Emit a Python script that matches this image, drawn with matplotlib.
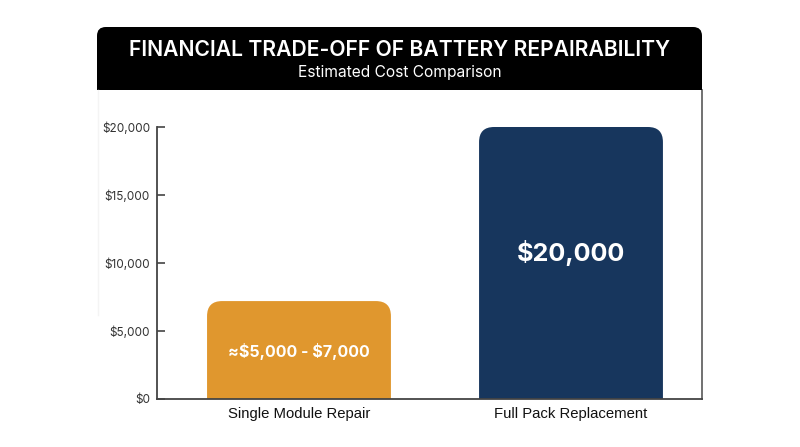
import matplotlib
matplotlib.use("Agg")
import matplotlib.pyplot as plt
from matplotlib.patches import FancyBboxPatch, Rectangle
from matplotlib.ticker import FuncFormatter

# chart values
categories = ["Single Module Repair", "Full Pack Replacement"]
costs = [7200, 20000]
bar_labels = ["\u2248\\$5,000 - \\$7,000", "\\$20,000"]
bar_colors = ["#E0972E", "#17365D"]
y_ticks = [0, 5000, 10000, 15000, 20000]

TITLE = "FINANCIAL TRADE-OFF OF BATTERY REPAIRABILITY"
SUBTITLE = "Estimated Cost Comparison"

W, H = 800, 447
fig = plt.figure(figsize=(W / 100, H / 100), dpi=100)
fig.patch.set_facecolor("white")


def fx(px):
    return px / W


def fy(py):
    return 1 - py / H


# black header band with rounded top corners
hdr = FancyBboxPatch((fx(97), fy(90)), fx(702) - fx(97), fy(27) - fy(90),
                     boxstyle="round,pad=0,rounding_size=0.011",
                     mutation_aspect=W / H, transform=fig.transFigure,
                     facecolor="black", edgecolor="none", zorder=1)
fig.patches.append(hdr)
fig.patches.append(Rectangle((fx(97), fy(90)), fx(702) - fx(97), fy(70) - fy(90),
                             transform=fig.transFigure, facecolor="black",
                             edgecolor="none", zorder=1))
# faint left edge of the card
fig.lines.append(plt.Line2D([fx(98), fx(98)], [fy(90), fy(315)],
                            transform=fig.transFigure, color="#f4f4f4", lw=1))

fig.text(0.5, fy(50), TITLE, color="white", ha="center", va="center",
         fontsize=15.2, fontweight="semibold", family="Inter")
fig.text(0.5, fy(73), SUBTITLE, color="white", ha="center", va="center",
         fontsize=11.2, family="Inter")

ax = fig.add_axes([fx(157), fy(399), fx(702) - fx(157), fy(90) - fy(399)])
ax.set_facecolor("none")

x = list(range(len(categories)))
bars = ax.bar(x, costs, width=0.676, color="none")

px_per_x = 272.0
px_per_y = 272.0 / 20000
r_px = 15
for rect, col in zip(bars, bar_colors):
    x0, w, h = rect.get_x(), rect.get_width(), rect.get_height()
    rx = r_px / px_per_x
    patch = FancyBboxPatch((x0, -r_px / px_per_y), w, h + r_px / px_per_y,
                           boxstyle="round,pad=0,rounding_size=%f" % rx,
                           mutation_aspect=(1 / px_per_y) / (1 / px_per_x),
                           facecolor=col, edgecolor="none", zorder=2)
    ax.add_patch(patch)

ax.text(x[0], 3500, bar_labels[0], color="white", ha="center", va="center",
        fontsize=11.5, fontweight="bold", family="Inter", zorder=3)
ax.text(x[1], 10700, bar_labels[1], color="white", ha="center", va="center",
        fontsize=18.2, fontweight="bold", family="Inter", zorder=3)

ax.set_xlim(-0.522, 1.4816)
ax.set_ylim(0, (399 - 90) / px_per_y)

ax.set_yticks(y_ticks)
ax.yaxis.set_major_formatter(FuncFormatter(lambda v, p: "\\${:,.0f}".format(v)))
ax.tick_params(axis="y", direction="in", length=5.5, width=1.2, color="#444444",
               labelsize=8.5, labelcolor="#333333", pad=5)
for t in ax.get_yticklabels():
    t.set_family("Inter")

ax.set_xticks(x)
ax.set_xticklabels(categories, family="Liberation Sans", fontsize=10.7, color="#111111")
ax.tick_params(axis="x", length=0, pad=6)

ax.spines["top"].set_visible(False)
ax.spines["left"].set_bounds(0, 20000)
for s in ["left", "bottom", "right"]:
    ax.spines[s].set_color("#444444")
    ax.spines[s].set_linewidth(1.3)
ax.spines["right"].set_color("#666666")

fig.savefig("out.png", dpi=100, facecolor="white")
